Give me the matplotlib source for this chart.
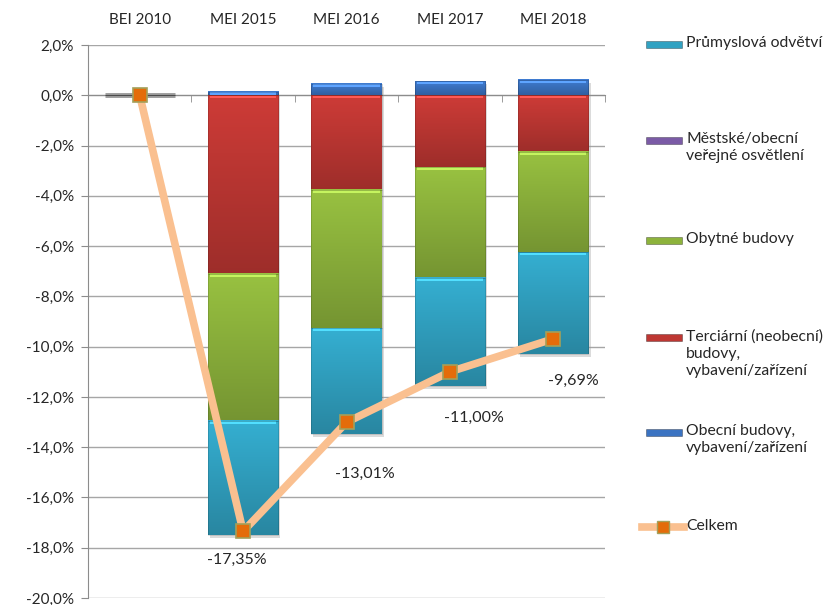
import numpy as np
import matplotlib
matplotlib.use('Agg')
import matplotlib.pyplot as plt
from matplotlib.colors import to_rgb
from matplotlib.patches import Rectangle
from matplotlib.lines import Line2D

plt.rcParams['font.family'] = ['Lato', 'DejaVu Sans']

categories = ['BEI 2010', 'MEI 2015', 'MEI 2016', 'MEI 2017', 'MEI 2018']

# sectors (in %), negative part stacked down from zero
tercialni = [0.0, -7.10, -3.75, -2.85, -2.25]
obytne = [0.0, -5.85, -5.50, -4.40, -4.00]
prumysl = [0.0, -4.55, -4.21, -4.30, -4.04]
osvetleni = [0.0, 0.0, 0.0, 0.0, 0.0]
obecni = [0.0, 0.15, 0.45, 0.55, 0.60]
celkem = [0.0, -17.35, -13.01, -11.00, -9.69]
celkem_labels = ['', '-17,35%', '-13,01%', '-11,00%', '-9,69%']
label_offsets = [(0, 0), (-6, -29), (18, -52), (24, -46), (20, -42)]  # pixels

col_cyan = '#31A2C2'
col_purple = '#7B5BA6'
col_green = '#8DB33C'
col_red = '#BE3733'
col_blue = '#3B73C2'
col_line = '#FAC090'
col_mark = '#E46C0A'
txt = '#262626'

fig = plt.figure(figsize=(8.3, 6.05), dpi=100)
ax = fig.add_axes([88 / 830, 1 - 598 / 605, (605 - 88) / 830, (598 - 45) / 605])

x = np.arange(len(categories))
w = 0.68


def shade_bars(bars, color):
    # vertical gradient, light on top, darker at bottom
    base = np.array(to_rgb(color))
    for p in bars:
        x0, y0 = p.get_x(), p.get_y()
        bw, bh = p.get_width(), p.get_height()
        if abs(bh) < 1e-9:
            continue
        top, bot = max(y0, y0 + bh), min(y0, y0 + bh)
        t = np.linspace(0, 1, 64)[:, None]
        c = base * (1.08 - 0.25 * t)
        c = np.clip(c, 0, 1)
        img = np.repeat(c[:, None, :], 2, axis=1)
        ax.imshow(img, extent=[x0, x0 + bw, bot, top], aspect='auto',
                  zorder=2.1, interpolation='bilinear')
        # bevel highlight at top
        hl = np.clip(base * 1.25 + 0.08, 0, 1)
        ax.add_patch(Rectangle((x0 + 0.02, top - 0.12), bw - 0.04, 0.1,
                               facecolor=hl, edgecolor='none', zorder=2.2))
        # soft shadow
        ax.add_patch(Rectangle((x0 + 0.02, bot - 0.12), bw, top - bot,
                               facecolor='#999999', alpha=0.35,
                               edgecolor='none', zorder=2.0))


# zero bars at BEI 2010 only show the grey shadow line
ax.bar(x[:1], [0], w, color='none', edgecolor='#9A9A9A', linewidth=3.5, zorder=2)

b_red = ax.bar(x, tercialni, w, color=col_red, edgecolor=(0, 0, 0, 0.15), linewidth=0.6, zorder=2.3)
bottom2 = np.array(tercialni)
b_green = ax.bar(x, obytne, w, bottom=bottom2, color=col_green, edgecolor=(0, 0, 0, 0.15), linewidth=0.6, zorder=2.3)
bottom3 = bottom2 + np.array(obytne)
b_cyan = ax.bar(x, prumysl, w, bottom=bottom3, color=col_cyan, edgecolor=(0, 0, 0, 0.15), linewidth=0.6, zorder=2.3)
b_blue = ax.bar(x, obecni, w, color=col_blue, edgecolor=(0, 0, 0, 0.2), linewidth=0.6, zorder=2.3)

for bars, col in [(b_red, col_red), (b_green, col_green), (b_cyan, col_cyan), (b_blue, col_blue)]:
    for p in bars:
        p.set_facecolor('none')
    shade_bars(bars, col)

ax.plot(x, celkem, color=col_line, lw=5.5, marker='s', markersize=10,
        markerfacecolor=col_mark, markeredgecolor='#A3A05A', markeredgewidth=1.2,
        zorder=5, solid_joinstyle='round')

for i, lab in enumerate(celkem_labels):
    if lab:
        ax.annotate(lab, (x[i], celkem[i]), xytext=label_offsets[i],
                    textcoords='offset pixels', ha='center', va='center',
                    fontsize=11.5, color=txt, zorder=6)

ax.set_xlim(-0.5, len(categories) - 0.5)
ax.set_ylim(-20, 2)
ax.set_yticks(np.arange(-20, 2.1, 2))
ax.set_yticklabels([('%.1f%%' % v).replace('.', ',') for v in np.arange(-20, 2.1, 2)])

ax.set_xticks(x)
ax.set_xticklabels(categories)
ax.set_xticks(np.arange(0.5, len(categories), 1), minor=True)
ax.tick_params(axis='x', which='major', top=False, bottom=False,
               labeltop=True, labelbottom=False, length=0, pad=13,
               labelsize=11, labelcolor=txt)
ax.tick_params(axis='x', which='minor', bottom=True, top=False,
               direction='out', length=5, color='#8C8C8C')
ax.tick_params(axis='y', direction='out', length=5, color='#8C8C8C',
               labelsize=11, labelcolor=txt, pad=5)

ax.spines['bottom'].set_position(('data', 0))
ax.spines['bottom'].set_color('#8C8C8C')
ax.spines['bottom'].set_zorder(2.05)
ax.spines['left'].set_color('#8C8C8C')
ax.spines['top'].set_visible(False)
ax.spines['right'].set_visible(False)
ax.yaxis.grid(True, color='#A6A6A6', lw=1)
ax.set_axisbelow(True)

# legend on the right
leg_items = [
    ('patch', col_cyan, 'Průmyslová odvětví', 44),
    ('patch', col_purple, 'Městské/obecní\nveřejné osvětlení', 140),
    ('patch', col_green, 'Obytné budovy', 240),
    ('patch', col_red, 'Terciární (neobecní)\nbudovy,\nvybavení/zařízení', 337),
    ('patch', col_blue, 'Obecní budovy,\nvybavení/zařízení', 432),
    ('line', col_line, 'Celkem', 527),
]
for kind, col, text, ypx in leg_items:
    yf = 1 - ypx / 605
    if kind == 'patch':
        fig.add_artist(Rectangle((646 / 830, yf - 3.5 / 605), 36 / 830, 7 / 605,
                                 facecolor=col, edgecolor=(0, 0, 0, 0.35),
                                 lw=0.6, transform=fig.transFigure))
    else:
        fig.add_artist(Line2D([642 / 830, 684 / 830], [yf, yf], color=col, lw=5.5,
                              transform=fig.transFigure))
        fig.add_artist(Line2D([663 / 830], [yf], marker='s', markersize=8,
                              markerfacecolor=col_mark, markeredgecolor='#A3A05A',
                              transform=fig.transFigure))
    fig.text(686 / 830, yf + 8 / 605, text, ha='left', va='top', fontsize=11.3,
             color=txt, linespacing=1.3)

fig.savefig('out.png', dpi=100)
